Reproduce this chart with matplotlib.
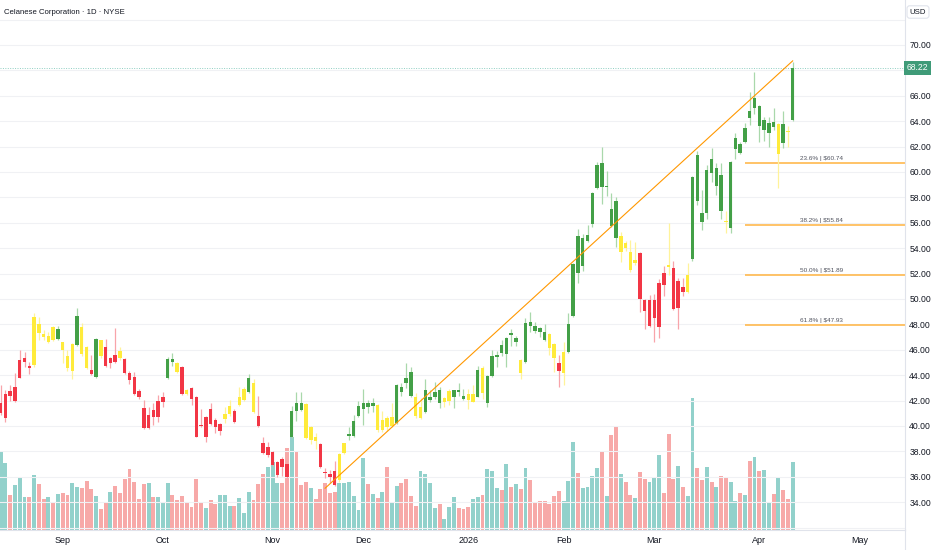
import matplotlib
matplotlib.use("Agg")
import matplotlib.pyplot as plt
from matplotlib import font_manager

# daily candles, index 1 = first bar shown (mid Aug 2025)
opens = [41.8, 42.5, 42.75, 43.05, 45.2, 45.35, 44.7, 44.8, 48.0, 47.25,
         47.1, 46.8, 46.85, 46.6, 45.5, 44.35, 46.4, 47.8, 46.2, 44.4,
         43.85, 46.75, 46.2, 45.35, 45.6, 45.35, 45.3, 44.15, 43.85, 42.75,
         41.4, 40.9, 41.25, 41.95, 42.3, 43.8, 45.05, 44.95, 44.65, 42.5,
         43.0, 42.3, 40.1, 40.7, 41.35, 40.45, 40.15, 40.55, 40.95, 41.2,
         41.65, 42.05, 42.7, 43.4, 40.8, 38.65, 38.35, 37.95, 37.15, 37.4,
         37.0, 39.15, 41.2, 41.25, 41.75, 39.9, 39.1, 38.6, 36.4, 36.2,
         36.45, 35.75, 37.9, 39.2, 39.2, 40.8, 41.35, 41.5, 41.55, 41.65,
         39.7, 40.6, 40.0, 40.25, 42.7, 43.4, 42.35, 42.3, 40.65, 41.1,
         42.05, 42.3, 42.8, 41.9, 42.0, 42.3, 42.7, 42.35, 42.05, 42.5,
         42.3, 44.55, 41.8, 43.95, 45.45, 45.75, 45.65, 47.15, 46.6, 45.2,
         45.05, 47.9, 47.5, 47.4, 46.8, 47.25, 46.45, 44.95, 44.2, 45.85,
         48.65, 52.05, 52.6, 54.55, 55.9, 58.75, 58.8, 58.8, 55.75, 54.8,
         54.95, 54.0, 53.7, 52.85, 53.6, 49.95, 49.95, 49.95, 51.25, 52.05,
         52.55, 52.45, 51.4, 50.95, 50.55, 53.15, 57.7, 56.05, 56.75, 59.9,
         58.9, 56.95, 56.15, 55.6, 61.8, 61.5, 62.35, 64.25, 65.05, 63.6,
         63.3, 63.05, 63.55, 61.4, 63.8, 63.15, 64.1]
highs = [43.2, 42.8, 43.2, 44.15, 46.0, 45.8, 45.05, 48.9, 48.6, 47.55,
         47.4, 47.85, 47.9, 46.65, 46.0, 46.55, 49.3, 48.1, 46.3, 45.6,
         46.95, 46.8, 46.85, 45.45, 47.7, 46.2, 45.35, 44.35, 44.25, 42.9,
         42.05, 41.5, 41.8, 42.45, 42.7, 45.45, 45.75, 45.05, 44.7, 42.9,
         43.05, 42.35, 41.35, 40.8, 41.8, 40.65, 40.2, 41.5, 42.05, 41.35,
         43.05, 43.05, 44.1, 43.7, 42.35, 39.15, 38.75, 38.0, 37.25, 37.55,
         37.5, 41.6, 42.7, 42.7, 41.8, 40.0, 39.45, 38.65, 36.7, 36.55,
         37.25, 37.9, 38.7, 39.9, 40.85, 41.95, 42.9, 42.05, 42.2, 41.75,
         41.2, 40.8, 41.8, 43.3, 43.4, 44.95, 44.65, 42.6, 42.2, 43.7,
         42.85, 43.45, 43.05, 42.3, 42.9, 42.85, 43.4, 42.9, 42.9, 43.2,
         44.7, 44.7, 44.0, 46.0, 45.9, 46.75, 47.0, 47.65, 47.1, 45.3,
         48.5, 49.0, 48.2, 47.8, 48.05, 47.3, 46.5, 45.6, 46.6, 48.9,
         52.85, 55.5, 55.1, 55.85, 58.45, 60.8, 61.95, 60.1, 58.35, 58.05,
         55.3, 54.55, 54.65, 54.5, 53.7, 50.0, 50.3, 50.4, 51.55, 52.6,
         56.0, 53.0, 51.65, 51.65, 52.85, 59.7, 61.65, 58.6, 60.55, 61.9,
         60.7, 60.7, 56.95, 60.9, 63.05, 62.35, 63.85, 66.3, 67.85, 65.3,
         64.35, 64.35, 65.05, 63.85, 64.8, 63.6, 68.7]
lows = [40.85, 40.3, 41.95, 41.9, 43.75, 44.65, 44.1, 44.65, 46.8, 46.8,
        46.55, 46.7, 46.75, 44.95, 44.3, 43.7, 46.3, 45.5, 44.5, 44.0,
        43.75, 45.35, 44.65, 44.55, 45.0, 45.2, 44.1, 43.3, 42.45, 42.1,
        39.75, 39.75, 40.1, 40.3, 41.5, 43.7, 44.7, 44.2, 42.45, 42.45,
        41.65, 39.1, 39.9, 38.75, 40.05, 39.45, 39.3, 40.25, 40.8, 40.25,
        41.55, 41.95, 42.6, 41.0, 39.9, 37.8, 37.55, 36.85, 36.0, 36.05,
        35.45, 39.05, 40.4, 41.2, 38.95, 38.6, 38.2, 36.7, 35.9, 35.5,
        35.3, 35.6, 37.8, 38.9, 39.1, 40.7, 40.1, 41.0, 41.1, 39.5,
        39.5, 39.6, 39.9, 40.15, 42.35, 43.0, 42.3, 40.65, 40.55, 41.0,
        41.9, 42.1, 41.4, 41.5, 41.65, 41.4, 42.35, 42.05, 41.35, 41.9,
        42.25, 42.15, 41.5, 43.85, 44.65, 45.5, 44.65, 46.3, 46.3, 43.7,
        44.95, 47.4, 47.3, 47.0, 46.7, 45.6, 44.25, 43.05, 43.25, 45.75,
        48.55, 51.25, 52.2, 54.5, 55.65, 58.65, 57.5, 58.1, 55.65, 54.1,
        52.9, 53.8, 52.1, 52.65, 49.0, 47.65, 47.8, 46.6, 46.95, 50.25,
        51.9, 49.1, 47.65, 50.25, 50.5, 53.0, 57.4, 55.45, 56.3, 59.2,
        58.2, 56.3, 55.2, 55.2, 61.0, 61.4, 62.3, 63.7, 64.55, 62.35,
        62.45, 61.95, 63.3, 58.75, 61.9, 61.95, 64.0]
closes = [41.0, 40.6, 42.35, 41.95, 43.8, 45.05, 44.55, 48.6, 47.3, 47.0,
          46.6, 47.8, 47.65, 46.0, 44.55, 46.45, 48.65, 45.65, 44.55, 44.1,
          46.85, 45.5, 44.7, 44.95, 45.05, 45.9, 44.15, 43.6, 42.5, 42.3,
          39.85, 39.85, 40.7, 40.7, 41.9, 45.3, 45.3, 44.25, 42.5, 42.85,
          42.15, 39.15, 40.0, 39.15, 40.15, 39.9, 39.6, 40.95, 41.55, 40.3,
          42.3, 42.9, 43.8, 41.1, 40.0, 37.85, 37.7, 36.95, 36.15, 36.75,
          36.0, 41.2, 41.8, 41.8, 39.05, 38.9, 38.8, 36.75, 36.3, 36.0,
          35.35, 37.8, 38.65, 39.35, 40.4, 41.55, 41.8, 41.8, 41.8, 39.7,
          40.45, 39.9, 40.7, 43.2, 43.05, 43.8, 44.25, 40.8, 41.5, 42.85,
          42.3, 42.7, 41.8, 42.2, 42.75, 42.85, 42.85, 42.15, 42.5, 41.9,
          44.4, 42.6, 43.95, 45.5, 45.6, 46.4, 46.95, 47.3, 46.95, 44.2,
          48.1, 48.2, 47.85, 47.7, 47.4, 46.15, 45.35, 44.35, 45.8, 48.05,
          52.75, 54.95, 54.8, 55.05, 58.35, 60.55, 60.7, 58.9, 57.1, 57.7,
          53.7, 54.4, 52.3, 53.05, 50.0, 49.05, 47.85, 48.5, 47.8, 51.1,
          52.7, 49.2, 49.3, 50.55, 51.9, 59.6, 61.35, 56.75, 60.15, 61.0,
          60.3, 59.75, 56.05, 60.8, 62.7, 62.2, 63.45, 64.8, 65.85, 65.2,
          64.1, 63.85, 63.95, 63.8, 62.3, 63.25, 68.22]
# candle colouring from the chart's indicator: g = green, r = red, y = yellow
signal = list("rrrrrrryyy" "yygyyygyyr" "gyrrryrrrr" "rrrrrggyry"
              "rrrrrrryyr" "yygyrrrrrr" "rgggyyyrrr" "ryyggggggy"
              "yyyggggyyg" "gggyygggyy" "gygggggggy" "gggggyyryg"
              "gggggggggg" "yyyyrrrrrr" "yrrryggggg" "ggyggggggg"
              "gggygyg")
# volume in thousands of shares, 1 = up bar (teal), 0 = down bar
volume = [3120, 2680, 1400, 1800, 2120, 1320, 1320, 2200, 1840, 1240,
          1320, 1080, 1440, 1480, 1400, 1880, 1720, 1680, 1960, 1640,
          1360, 840, 1080, 1520, 1760, 1480, 2040, 2440, 1920, 1240,
          1840, 1880, 1320, 1320, 1120, 1880, 1400, 1200, 1360, 1120,
          920, 2040, 1080, 880, 1200, 1040, 1400, 1400, 960, 960,
          1280, 680, 1520, 1200, 1840, 2240, 2520, 2720, 1880, 1880,
          3280, 3720, 3120, 1800, 1920, 1680, 1240, 1640, 1880, 1480,
          1520, 1880, 1880, 1920, 1360, 800, 2880, 1840, 1440, 1280,
          1520, 2520, 1120, 1760, 1880, 2040, 1360, 960, 2360, 2240,
          1880, 880, 1040, 440, 920, 1320, 880, 840, 920, 1240,
          1320, 1400, 2440, 2360, 1680, 1600, 2640, 1720, 1840, 1640,
          2480, 2000, 1080, 1160, 1160, 1040, 1360, 1560, 1160, 1960,
          3520, 2280, 1680, 1720, 2160, 2480, 3120, 1360, 3800, 4120,
          2240, 1920, 1400, 1280, 2320, 2040, 1920, 2080, 3000, 1480,
          3840, 2040, 2560, 1720, 1360, 5280, 2480, 2000, 2520, 1920,
          1720, 2160, 2120, 1920, 1160, 1480, 1400, 2760, 2920, 2360,
          2400, 1120, 1440, 2120, 1600, 1240, 2720]
vol_up = [1, 1, 0, 1, 1, 1, 0, 1, 0, 0,
          1, 0, 1, 0, 0, 1, 1, 0, 0, 0,
          1, 0, 0, 1, 0, 0, 0, 0, 0, 0,
          0, 1, 0, 1, 1, 1, 0, 0, 0, 0,
          0, 0, 0, 1, 0, 0, 1, 1, 1, 0,
          1, 1, 1, 0, 0, 0, 1, 1, 1, 0,
          0, 1, 0, 0, 0, 1, 0, 0, 0, 0,
          0, 1, 1, 1, 1, 1, 1, 0, 1, 0,
          1, 0, 1, 1, 0, 0, 0, 0, 1, 1,
          1, 1, 0, 1, 1, 1, 0, 0, 0, 1,
          1, 0, 1, 1, 1, 0, 1, 0, 1, 0,
          1, 0, 0, 0, 0, 0, 0, 0, 1, 1,
          1, 0, 1, 1, 1, 1, 0, 1, 0, 0,
          1, 0, 0, 1, 0, 0, 1, 1, 1, 0,
          0, 0, 1, 0, 1, 1, 0, 0, 1, 0,
          1, 0, 0, 1, 1, 0, 1, 0, 1, 0,
          1, 1, 0, 1, 0, 0, 1]

month_labels = ["Sep", "Oct", "Nov", "Dec", "2026", "Feb", "Mar", "Apr", "May"]
month_idx = [14, 35, 58, 77, 99, 119, 138, 160, 181]

fib_ratios = ["23.6%", "38.2%", "50.0%", "61.8%"]
fib_prices = [60.74, 55.84, 51.89, 47.93]
fib_start = 157

trend_idx = [69, 167]
trend_px = [35.1, 68.75]

last_price = closes[-1]
idx = list(range(1, len(closes) + 1))

names = {f.name for f in font_manager.fontManager.ttflist}
narrow = "Liberation Sans Narrow" if "Liberation Sans Narrow" in names else "Liberation Sans"
plt.rcParams["font.family"] = [narrow, "DejaVu Sans"]

body_col = {"g": "#43a047", "r": "#f23645", "y": "#ffeb3b"}
wick_col = {"g": "#a9d8ab", "r": "#f8a4aa", "y": "#fff39a"}
txt = "#131722"
sep = "#e0e3eb"

fig = plt.figure(figsize=(9.32, 5.5), dpi=100)
ax = fig.add_axes([0, 20 / 550, 905 / 932, 530 / 550])
axv = ax.twinx()
ax.set_zorder(axv.get_zorder() + 1)
ax.patch.set_visible(False)

# volume
vcols = ["#92d1cb" if u else "#f7a9a8" for u in vol_up]
axv.bar(idx, volume, width=0.82, color=vcols, linewidth=0)
axv.set_ylim(0, 21200)
axv.set_yticks([])
for s in axv.spines.values():
    s.set_visible(False)

# candles
for i, o, h, l, c, s in zip(idx, opens, highs, lows, closes, signal):
    ax.vlines(i, l, h, color=wick_col[s], lw=0.9, zorder=3)
    lo = min(o, c)
    ax.bar(i, max(abs(c - o), 0.08), bottom=lo, width=0.72,
           color=body_col[s], linewidth=0, zorder=4)

# trend line
ax.plot(trend_idx, trend_px, color="#ff9800", lw=0.8, zorder=5)

# fib levels
for r, p in zip(fib_ratios, fib_prices):
    ax.plot([fib_start, 200], [p, p], color="#ffbe5c", lw=1.3, zorder=2,
            solid_capstyle="butt")
    ax.annotate(f"{r} | ${p:.2f}", (168.5, p), xytext=(0, 1.5),
                textcoords="offset points", fontsize=4.6, color="#50535e",
                va="bottom", ha="left", zorder=6)

# last price line
ax.axhline(last_price, color="#8fcfc2", lw=0.7, ls=(0, (1, 1.5)), zorder=1)

x_left = 1 - 0.67 / 4.771
x_right = x_left + 905 / 4.771
ax.set_xlim(x_left, x_right)
ax.set_ylim(70 - (530 - 45) / 12.7, 70 + 45 / 12.7)

yt = list(range(32, 74, 2))
ax.set_yticks(yt)
ax.set_yticklabels([f"{v:.2f}" if 34 <= v <= 70 and v != 68 else "" for v in yt])
ax.yaxis.tick_right()
ax.tick_params(axis="y", length=0, pad=3, labelsize=6.2, labelcolor=txt)
ax.set_xticks(month_idx)
ax.set_xticklabels(month_labels)
ax.tick_params(axis="x", length=0, pad=4, labelsize=6.5, labelcolor=txt)
ax.yaxis.grid(True, color="#f0f1f4", lw=0.8)
ax.set_axisbelow(True)
for k, s in ax.spines.items():
    s.set_visible(k in ("right", "bottom"))
    s.set_color(sep)
    s.set_linewidth(0.8)

# price tag on the axis
ax.text(1.002, last_price, f"{last_price:.2f}", transform=ax.get_yaxis_transform(),
        fontsize=6.2, color="white", va="center", ha="left", clip_on=False,
        bbox=dict(boxstyle="square,pad=0.3", fc="#3f9b78", ec="none"), zorder=10)

fig.text(4 / 932, 1 - 12 / 550, "Celanese Corporation · 1D · NYSE",
         fontsize=5.6, color=txt, va="center", ha="left")
fig.text(918 / 932, 1 - 12 / 550, "USD", fontsize=5.6, color=txt, va="center",
         ha="center", bbox=dict(boxstyle="round,pad=0.35", fc="white", ec=sep, lw=0.8))
fig.add_artist(plt.Line2D([905 / 932, 905 / 932], [0, 20 / 550], color=sep, lw=0.8))

fig.savefig("out.png", dpi=100)
